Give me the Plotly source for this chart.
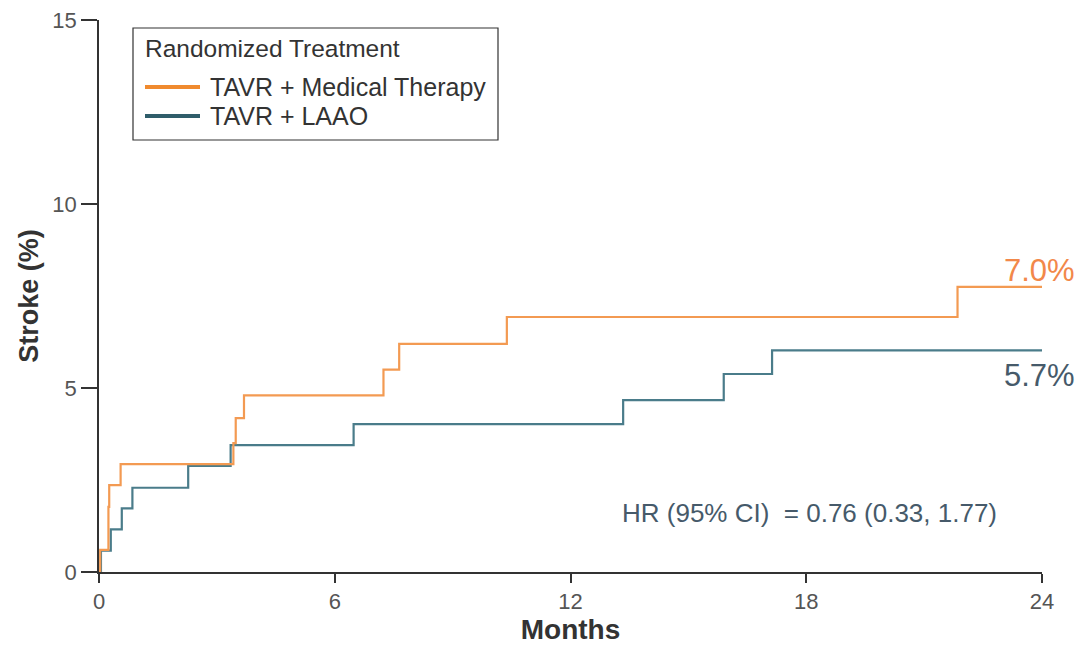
import plotly.graph_objects as go

# Data (months, cumulative stroke %)
med_months = [0, 0.03, 0.24, 0.26, 0.55, 3.42, 3.48, 3.69, 7.24, 7.64, 10.38, 21.85, 24]
med_values = [0, 0.60, 1.77, 2.36, 2.93, 3.50, 4.18, 4.80, 5.50, 6.20, 6.93, 7.75, 7.75]

laao_months = [0, 0.05, 0.30, 0.58, 0.85, 2.27, 3.35, 6.48, 13.34, 15.90, 17.13, 24]
laao_values = [0, 0.58, 1.16, 1.73, 2.29, 2.88, 3.45, 4.02, 4.67, 5.38, 6.02, 6.02]

x_ticks = [0, 6, 12, 18, 24]
y_ticks = [0, 5, 10, 15]

series_names = ["TAVR + Medical Therapy", "TAVR + LAAO"]
end_labels = ["7.0%", "5.7%"]
hr_text = "HR (95% CI)&nbsp; = 0.76 (0.33, 1.77)"

ORANGE_LINE = "#F39A52"
TEAL_LINE = "#4A7C8A"
ORANGE_LEG = "#F08A2E"
TEAL_LEG = "#2F5D6A"
ORANGE_TXT = "#F2884A"
TEAL_TXT = "#465A6A"
FONT = "Liberation Sans, Arial, sans-serif"

W, H = 1079, 647
ML, MR, MT, MB = 99, 37, 20, 75
PW = W - ML - MR
PH = H - MT - MB


def px(x):
    return (x - ML) / PW


def py(y):
    return (H - MB - y) / PH


fig = go.Figure()
fig.add_trace(go.Scatter(x=laao_months, y=laao_values, mode="lines", line_shape="hv",
                         line=dict(color=TEAL_LINE, width=2.2), name=series_names[1],
                         cliponaxis=False, showlegend=False))
fig.add_trace(go.Scatter(x=med_months, y=med_values, mode="lines", line_shape="hv",
                         line=dict(color=ORANGE_LINE, width=2.2), name=series_names[0],
                         cliponaxis=False, showlegend=False))

shapes = [
    dict(type="rect", xref="paper", yref="paper", x0=px(133), x1=px(498), y0=py(140), y1=py(28),
         line=dict(color="#333333", width=1.2), fillcolor="white", layer="below"),
    dict(type="line", xref="paper", yref="paper", x0=px(145), x1=px(200), y0=py(87), y1=py(87),
         line=dict(color=ORANGE_LEG, width=4)),
    dict(type="line", xref="paper", yref="paper", x0=px(145), x1=px(200), y0=py(116), y1=py(116),
         line=dict(color=TEAL_LEG, width=4)),
]

annotations = [
    dict(text="Randomized Treatment", xref="paper", yref="paper", x=px(143), y=py(48),
         xanchor="left", yanchor="middle", showarrow=False, font=dict(size=24.5, color="#333333", family=FONT)),
    dict(text=series_names[0], xref="paper", yref="paper", x=px(208), y=py(87),
         xanchor="left", yanchor="middle", showarrow=False, font=dict(size=25, color="#333333", family=FONT)),
    dict(text=series_names[1], xref="paper", yref="paper", x=px(208), y=py(116),
         xanchor="left", yanchor="middle", showarrow=False, font=dict(size=25, color="#333333", family=FONT)),
    dict(text=end_labels[0], xref="paper", yref="paper", x=px(1077), y=py(270),
         xanchor="right", yanchor="middle", showarrow=False, font=dict(size=31, color=ORANGE_TXT, family=FONT)),
    dict(text=end_labels[1], xref="paper", yref="paper", x=px(1077), y=py(375),
         xanchor="right", yanchor="middle", showarrow=False, font=dict(size=31, color=TEAL_TXT, family=FONT)),
    dict(text=hr_text, xref="paper", yref="paper", x=px(620), y=py(513),
         xanchor="left", yanchor="middle", showarrow=False, font=dict(size=26, color=TEAL_TXT, family=FONT)),
]

fig.update_layout(
    width=W, height=H,
    margin=dict(l=ML, r=MR, t=MT, b=MB),
    paper_bgcolor="white", plot_bgcolor="white",
    font=dict(family=FONT),
    shapes=shapes, annotations=annotations,
    showlegend=False,
    xaxis=dict(range=[0, 24], tickvals=x_ticks, ticktext=[str(v) for v in x_ticks],
               automargin=False,
               showgrid=False, zeroline=False, showline=True, linecolor="#333333", linewidth=1.5,
               ticks="outside", ticklen=9, tickwidth=1.5, tickcolor="#333333",
               tickfont=dict(size=22, color="#555555", family=FONT),
               title=dict(text="<b>Months</b>", font=dict(size=28, color="#333333", family=FONT), standoff=6)),
    yaxis=dict(range=[0, 15], tickvals=y_ticks, ticktext=[str(v) for v in y_ticks],
               automargin=False,
               showgrid=False, zeroline=False, showline=True, linecolor="#333333", linewidth=1.5,
               ticks="outside", ticklen=16, tickwidth=1.5, tickcolor="#333333",
               tickfont=dict(size=22, color="#555555", family=FONT),
               title=dict(text="<b>Stroke (%)</b>", font=dict(size=27, color="#333333", family=FONT), standoff=6)),
)

fig.write_html("out.html")
